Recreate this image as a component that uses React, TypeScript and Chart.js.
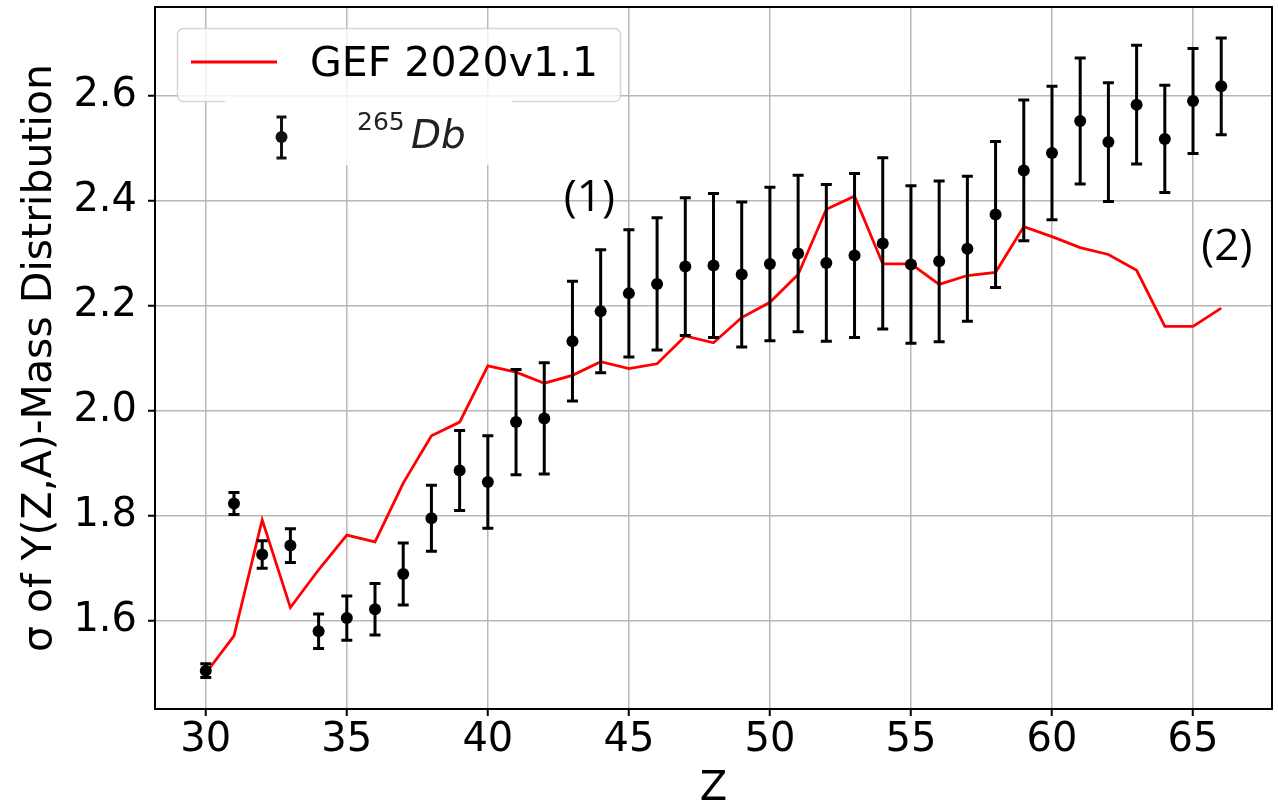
import React, { useEffect, useRef } from 'react';
import { Chart, registerables } from 'chart.js';

Chart.register(...registerables);

// ---- data ----
const zValues = [30, 31, 32, 33, 34, 35, 36, 37, 38, 39, 40, 41, 42, 43, 44, 45, 46, 47, 48, 49, 50, 51, 52, 53, 54, 55, 56, 57, 58, 59, 60, 61, 62, 63, 64, 65, 66];
const dbValues = [1.505, 1.823, 1.726, 1.743, 1.580, 1.605, 1.622, 1.689, 1.795, 1.886, 1.864, 1.978, 1.985, 2.132, 2.189, 2.223, 2.241, 2.274, 2.276, 2.259, 2.279, 2.299, 2.281, 2.295, 2.318, 2.278, 2.284, 2.308, 2.373, 2.457, 2.490, 2.551, 2.511, 2.582, 2.517, 2.589, 2.617];
const dbErrors = [0.013, 0.021, 0.026, 0.032, 0.033, 0.042, 0.049, 0.059, 0.063, 0.076, 0.088, 0.100, 0.106, 0.114, 0.117, 0.121, 0.126, 0.131, 0.137, 0.138, 0.146, 0.149, 0.149, 0.156, 0.163, 0.150, 0.153, 0.138, 0.139, 0.134, 0.127, 0.120, 0.113, 0.113, 0.102, 0.100, 0.092];
const gefValues = [1.500, 1.571, 1.792, 1.625, 1.697, 1.763, 1.750, 1.862, 1.952, 1.978, 2.085, 2.073, 2.052, 2.067, 2.093, 2.080, 2.089, 2.142, 2.129, 2.177, 2.206, 2.259, 2.383, 2.408, 2.279, 2.279, 2.240, 2.257, 2.263, 2.350, 2.331, 2.310, 2.297, 2.267, 2.160, 2.160, 2.195];
const xTickValues = [30, 35, 40, 45, 50, 55, 60, 65];
const yTickValues = [1.6, 1.8, 2.0, 2.2, 2.4, 2.6];
const xLimits = [28.2, 67.8];
const yLimits = [1.432, 2.768];
const gefLabel = 'GEF 2020v1.1';
const dbMass = '265';
const dbSymbol = 'Db';
const xTitle = 'Z';
const yTitle = 'σ of Y(Z,A)-Mass Distribution';
const annotationTexts = ['(1)', '(2)'];
const annotationZ = [43.6, 66.2];
const annotationY = [2.404, 2.31];

const FONT = '"DejaVu Sans", sans-serif';

const errorBarPlugin = {
  id: 'errorBars',
  beforeDatasetDraw(chart: any, args: any) {
    if (args.index !== 1) return;
    const { ctx, scales } = chart;
    const x = scales.x;
    const y = scales.y;
    ctx.save();
    ctx.strokeStyle = '#000';
    ctx.lineWidth = 3;
    ctx.lineCap = 'butt';
    zValues.forEach((z, i) => {
      const px = x.getPixelForValue(z);
      const top = y.getPixelForValue(dbValues[i] + dbErrors[i]);
      const bot = y.getPixelForValue(dbValues[i] - dbErrors[i]);
      ctx.beginPath();
      ctx.moveTo(px, top);
      ctx.lineTo(px, bot);
      ctx.moveTo(px - 5.5, top);
      ctx.lineTo(px + 5.5, top);
      ctx.moveTo(px - 5.5, bot);
      ctx.lineTo(px + 5.5, bot);
      ctx.stroke();
    });
    ctx.restore();
  },
};

const framePlugin = {
  id: 'frameAndLegend',
  afterDatasetsDraw(chart: any) {
    const { ctx, chartArea, scales } = chart;
    ctx.save();
    // annotations
    ctx.fillStyle = '#000';
    ctx.font = '44px "Open Sans", sans-serif';
    ctx.textAlign = 'center';
    ctx.textBaseline = 'middle';
    annotationTexts.forEach((t, i) => {
      ctx.fillText(t, scales.x.getPixelForValue(annotationZ[i]), scales.y.getPixelForValue(annotationY[i]));
    });
    // frame
    ctx.strokeStyle = '#000';
    ctx.lineWidth = 2;
    ctx.strokeRect(chartArea.left, chartArea.top, chartArea.right - chartArea.left, chartArea.bottom - chartArea.top);
    ctx.restore();
  },
  afterDraw(chart: any) {
    const { ctx, chartArea } = chart;
    const L = chartArea.left;
    const T = chartArea.top;
    ctx.save();
    // legend box
    ctx.beginPath();
    ctx.roundRect(L + 22.5, T + 21.5, 443, 73, 6);
    ctx.fillStyle = 'rgba(255,255,255,0.8)';
    ctx.fill();
    ctx.strokeStyle = 'rgba(204,204,204,0.8)';
    ctx.lineWidth = 1.5;
    ctx.stroke();
    // first entry
    ctx.strokeStyle = '#ff0000';
    ctx.lineWidth = 3;
    ctx.beginPath();
    ctx.moveTo(L + 36, T + 55);
    ctx.lineTo(L + 122, T + 55);
    ctx.stroke();
    ctx.fillStyle = '#000';
    ctx.font = '41px ' + FONT;
    ctx.textAlign = 'left';
    ctx.textBaseline = 'alphabetic';
    ctx.fillText(gefLabel, L + 155, T + 69);
    // pasted second entry
    ctx.fillStyle = 'rgba(255,255,255,0.92)';
    ctx.fillRect(L + 70, T + 92, 287, 66);
    const ex = L + 126.5;
    const ey = T + 130;
    ctx.strokeStyle = '#111';
    ctx.lineWidth = 3;
    ctx.beginPath();
    ctx.moveTo(ex, ey - 20);
    ctx.lineTo(ex, ey + 21);
    ctx.moveTo(ex - 5, ey - 20);
    ctx.lineTo(ex + 5, ey - 20);
    ctx.moveTo(ex - 5, ey + 21);
    ctx.lineTo(ex + 5, ey + 21);
    ctx.stroke();
    ctx.fillStyle = '#111';
    ctx.beginPath();
    ctx.arc(ex, ey, 6, 0, Math.PI * 2);
    ctx.fill();
    ctx.fillStyle = '#222';
    ctx.font = '25px ' + FONT;
    ctx.fillText(dbMass, L + 202, T + 123);
    ctx.font = 'italic 39px ' + FONT;
    ctx.fillText(dbSymbol, L + 256, T + 141);
    ctx.restore();
  },
};

export default function App() {
  const canvasRef = useRef<HTMLCanvasElement | null>(null);

  useEffect(() => {
    const canvas = canvasRef.current;
    if (!canvas) return;
    const gridOpts = {
      color: '#b8b8b8',
      lineWidth: 1.5,
      tickColor: '#000',
      tickLength: 7,
      tickWidth: 2,
    };
    const chart = new Chart(canvas, {
      type: 'scatter',
      data: {
        datasets: [
          {
            label: gefLabel,
            data: zValues.map((z, i) => ({ x: z, y: gefValues[i] })),
            showLine: true,
            borderColor: '#ff0000',
            borderWidth: 2.8,
            pointRadius: 0,
            fill: false,
            tension: 0,
            order: 2,
          },
          {
            label: dbMass + dbSymbol,
            data: zValues.map((z, i) => ({ x: z, y: dbValues[i] })),
            showLine: false,
            pointRadius: 6,
            pointBackgroundColor: '#000',
            pointBorderWidth: 0,
            order: 1,
          },
        ],
      },
      options: {
        animation: false,
        responsive: false,
        layout: { padding: { top: 7, right: 6, left: 0, bottom: 0 } },
        plugins: {
          legend: { display: false },
          tooltip: { enabled: false },
        },
        scales: {
          x: {
            type: 'linear',
            min: xLimits[0],
            max: xLimits[1],
            afterFit: (s: any) => {
              s.height = 97;
              s.paddingLeft = 0;
              s.paddingRight = 0;
            },
            afterBuildTicks: (s: any) => { s.ticks = xTickValues.map((v) => ({ value: v })); },
            ticks: {
              color: '#000',
              font: { family: FONT, size: 40 },
              padding: 1,
              maxRotation: 0,
              callback: (v: any) => String(v),
            },
            grid: gridOpts,
            border: { display: false },
            title: {
              display: true,
              text: xTitle,
              color: '#000',
              font: { family: FONT, size: 40, lineHeight: 0.8 },
              padding: { top: 0, bottom: 0 },
            },
          },
          y: {
            type: 'linear',
            min: yLimits[0],
            max: yLimits[1],
            afterFit: (s: any) => {
              s.width = 155;
              s.paddingTop = 0;
              s.paddingBottom = 0;
            },
            afterBuildTicks: (s: any) => { s.ticks = yTickValues.map((v) => ({ value: v })); },
            ticks: {
              color: '#000',
              font: { family: FONT, size: 40 },
              padding: 11,
              callback: (v: any) => Number(v).toFixed(1),
            },
            grid: gridOpts,
            border: { display: false },
            title: {
              display: true,
              text: yTitle,
              color: '#000',
              font: { family: FONT, size: 41 },
              padding: { top: 16, bottom: 0 },
            },
          },
        },
      },
      plugins: [errorBarPlugin, framePlugin],
    } as any);
    return () => chart.destroy();
  }, []);

  return (
    <div style={{ position: 'absolute', left: 0, top: 0, width: 1278, height: 806, background: '#fff' }}>
      <canvas ref={canvasRef} width={1278} height={806} style={{ display: 'block' }} />
    </div>
  );
}
